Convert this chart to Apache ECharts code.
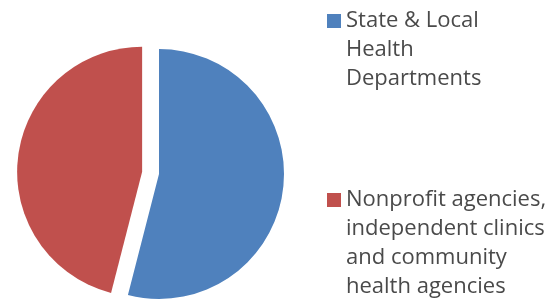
<!doctype html>
<html>
    <head>
        <meta charset="utf-8">
        <title>Funding recipients - pie</title>
        <style>
            html, body { margin: 0; padding: 0; background: #fff; }
            #main { width: 550px; height: 307px; }
        </style>
    </head>
    <body>
        <div id="main"></div>
        <script src="https://cdn.jsdelivr.net/npm/echarts@6/dist/echarts.min.js"></script>
        <script>
            // values
            var categories = [
                'State & Local Health Departments',
                'Nonprofit agencies, independent clinics and community health agencies'
            ];
            var shares = [54, 46];
            var colors = ['#4f81bd', '#c0504d'];
            // legend text, broken into lines like the original
            var legendLines = [
                ['State & Local', 'Health', 'Departments'],
                ['Nonprofit agencies,', 'independent clinics', 'and community', 'health agencies']
            ];

            var lineH = 29;
            var iconSize = 14;
            var iconCenters = [21, 200];   // y of each legend square

            var chart = echarts.init(document.getElementById('main'));

            // legend text is centred on its square; blank lines on top keep the
            // first line level with the square, the way the original has it
            var legends = categories.map(function (c, i) {
                var n = legendLines[i].length;
                var blockH = (2 * n - 1) * lineH;
                return {
                    orient: 'vertical',
                    left: 327,
                    top: iconCenters[i] - blockH / 2,
                    padding: 0,
                    itemWidth: iconSize,
                    itemHeight: iconSize,
                    icon: 'rect',
                    selectedMode: false,
                    formatter: function () {
                        return new Array(n).join('\n') + legendLines[i].join('\n');
                    },
                    textStyle: {
                        fontFamily: 'Open Sans',
                        fontSize: 22,
                        lineHeight: lineH,
                        color: '#4a4a4a'
                    },
                    data: [c]
                };
            });

            chart.setOption({
                animation: false,
                legend: legends,
                series: [{
                    type: 'pie',
                    center: [159, 174],
                    radius: 125,
                    startAngle: 90,
                    clockwise: true,
                    selectedMode: 'single',
                    selectedOffset: 17,
                    label: { show: false },
                    labelLine: { show: false },
                    emphasis: { disabled: true },
                    data: categories.map(function (c, i) {
                        return {
                            name: c,
                            value: shares[i],
                            selected: i === 1,
                            itemStyle: { color: colors[i] }
                        };
                    })
                }]
            });

            window.onresize = chart.resize;
        </script>
    </body>
</html>
